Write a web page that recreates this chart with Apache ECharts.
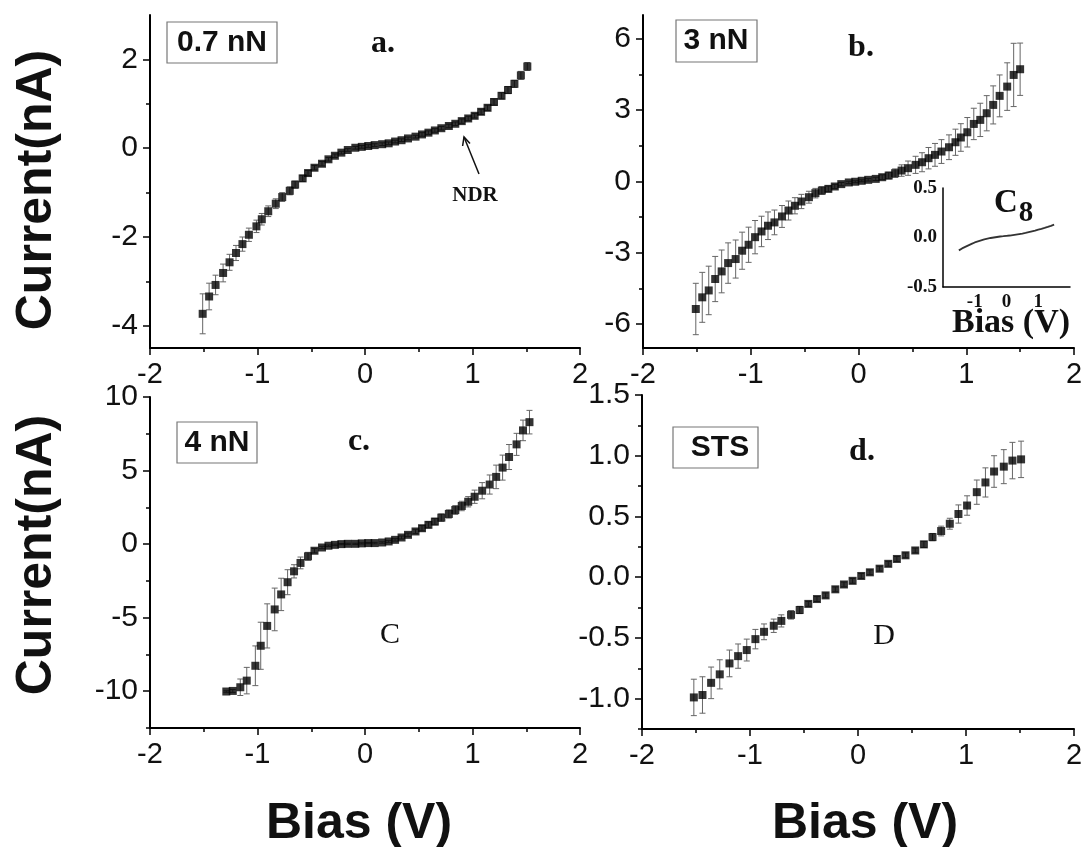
<!DOCTYPE html>
<html>
<head>
<meta charset="utf-8">
<script src="https://cdn.jsdelivr.net/npm/echarts@6/dist/echarts.min.js"></script>
<style>
  html, body { margin: 0; padding: 0; background: #fff; }
  #chart { width: 1088px; height: 847px; }
</style>
</head>
<body>
<div id="chart"></div>
<script>
// ---- Panel a: 0.7 nN load ----
const biasA = [-1.51,-1.45,-1.39,-1.32,-1.26,-1.20,-1.14,-1.08,-1.01,-0.96,-0.90,-0.83,-0.77,-0.70,-0.65,-0.58,-0.53,-0.47,-0.40,-0.34,-0.28,-0.22,-0.16,-0.09,-0.03,0.03,0.09,0.16,0.22,0.28,0.34,0.40,0.47,0.53,0.59,0.65,0.71,0.78,0.84,0.90,0.96,1.02,1.08,1.14,1.20,1.27,1.33,1.39,1.45,1.51];
const currentA = [-3.73,-3.34,-3.08,-2.81,-2.57,-2.36,-2.16,-1.95,-1.76,-1.60,-1.42,-1.25,-1.10,-0.96,-0.82,-0.68,-0.56,-0.44,-0.35,-0.25,-0.17,-0.10,-0.04,0.01,0.03,0.05,0.07,0.09,0.11,0.15,0.18,0.22,0.26,0.31,0.35,0.40,0.45,0.50,0.55,0.61,0.67,0.73,0.82,0.91,1.04,1.18,1.31,1.45,1.64,1.84];
const errorA = [0.45,0.30,0.22,0.20,0.18,0.17,0.16,0.15,0.14,0.13,0.12,0.11,0.10,0.09,0.08,0.07,0.06,0.05,0.05,0.04,0.04,0.03,0.03,0.03,0.03,0.03,0.03,0.03,0.03,0.03,0.03,0.03,0.03,0.04,0.04,0.04,0.04,0.04,0.04,0.05,0.05,0.05,0.06,0.06,0.07,0.07,0.08,0.08,0.09,0.09];

// ---- Panel b: 3 nN load ----
const biasB = [-1.51,-1.45,-1.39,-1.33,-1.27,-1.21,-1.14,-1.08,-1.02,-0.96,-0.90,-0.84,-0.78,-0.71,-0.65,-0.59,-0.53,-0.46,-0.40,-0.34,-0.28,-0.22,-0.16,-0.09,-0.03,0.03,0.09,0.16,0.22,0.28,0.34,0.40,0.46,0.53,0.59,0.65,0.71,0.77,0.84,0.90,0.95,1.01,1.07,1.13,1.19,1.25,1.31,1.38,1.44,1.50];
const currentB = [-5.36,-4.87,-4.58,-4.10,-3.78,-3.43,-3.26,-2.91,-2.66,-2.34,-2.10,-1.86,-1.72,-1.47,-1.22,-1.02,-0.84,-0.66,-0.49,-0.38,-0.31,-0.21,-0.11,-0.04,-0.01,0.03,0.07,0.11,0.18,0.25,0.35,0.46,0.56,0.70,0.81,0.98,1.12,1.26,1.44,1.65,1.85,2.07,2.42,2.59,2.87,3.22,3.60,3.99,4.48,4.72];
const errorB = [1.08,1.05,1.02,0.95,0.90,0.85,0.80,0.78,0.74,0.70,0.64,0.58,0.52,0.46,0.40,0.34,0.30,0.25,0.20,0.16,0.12,0.09,0.07,0.05,0.04,0.04,0.05,0.07,0.10,0.14,0.18,0.24,0.30,0.36,0.40,0.45,0.48,0.50,0.52,0.55,0.58,0.62,0.66,0.70,0.74,0.80,0.88,1.00,1.33,1.10];

// ---- Inset in panel b: C8 reference curve ----
const biasC8 = [-1.5,-1.4,-1.3,-1.2,-1.1,-1.0,-0.9,-0.8,-0.7,-0.6,-0.5,-0.4,-0.3,-0.2,-0.1,0,0.1,0.2,0.3,0.4,0.5,0.6,0.7,0.8,0.9,1.0,1.1,1.2,1.3,1.4,1.5];
const currentC8 = [-0.13,-0.11,-0.095,-0.08,-0.065,-0.05,-0.04,-0.03,-0.02,-0.012,-0.005,0.0,0.005,0.01,0.013,0.017,0.02,0.025,0.03,0.035,0.04,0.047,0.055,0.063,0.07,0.08,0.088,0.097,0.107,0.118,0.13];

// ---- Panel c: 4 nN load ----
const biasC = [-1.29,-1.23,-1.16,-1.10,-1.02,-0.97,-0.91,-0.84,-0.78,-0.72,-0.66,-0.60,-0.53,-0.47,-0.40,-0.34,-0.28,-0.22,-0.16,-0.09,-0.03,0.03,0.09,0.16,0.22,0.28,0.34,0.40,0.47,0.53,0.59,0.65,0.71,0.78,0.84,0.90,0.96,1.02,1.09,1.16,1.22,1.28,1.34,1.41,1.47,1.53];
const currentC = [-10.02,-9.98,-9.73,-9.28,-8.27,-6.91,-5.56,-4.44,-3.42,-2.59,-1.85,-1.28,-0.83,-0.45,-0.23,-0.11,-0.05,0,0.02,0.02,0.05,0.07,0.07,0.11,0.18,0.29,0.45,0.63,0.86,1.08,1.31,1.53,1.80,2.05,2.32,2.59,2.88,3.22,3.63,4.05,4.57,5.20,5.92,6.78,7.73,8.29];
const errorC = [0.05,0.10,0.56,0.90,1.35,1.60,1.50,1.45,1.10,0.85,0.45,0.40,0.27,0.15,0.08,0.05,0.05,0.04,0.04,0.04,0.04,0.04,0.05,0.05,0.06,0.08,0.10,0.12,0.15,0.18,0.20,0.22,0.25,0.28,0.30,0.32,0.35,0.45,0.55,0.65,0.80,0.85,0.85,0.75,0.70,0.80];

// ---- Panel d: STS ----
const biasD = [-1.52,-1.44,-1.36,-1.28,-1.19,-1.11,-1.03,-0.95,-0.87,-0.78,-0.71,-0.62,-0.54,-0.46,-0.38,-0.30,-0.21,-0.13,-0.05,0.03,0.11,0.20,0.28,0.36,0.44,0.53,0.61,0.69,0.77,0.85,0.93,1.01,1.10,1.18,1.26,1.35,1.43,1.51];
const currentD = [-0.99,-0.97,-0.87,-0.80,-0.71,-0.65,-0.60,-0.51,-0.45,-0.40,-0.36,-0.31,-0.27,-0.22,-0.18,-0.15,-0.10,-0.06,-0.03,0.01,0.04,0.07,0.11,0.15,0.18,0.22,0.27,0.33,0.38,0.44,0.52,0.59,0.70,0.78,0.87,0.91,0.96,0.97];
const errorD = [0.15,0.15,0.13,0.12,0.11,0.10,0.09,0.08,0.065,0.055,0.05,0.035,0.03,0.02,0.02,0.02,0.02,0.02,0.02,0.02,0.02,0.02,0.02,0.02,0.02,0.02,0.025,0.03,0.04,0.045,0.075,0.08,0.10,0.12,0.13,0.14,0.15,0.15];

// ---- Axis ticks and labels ----
const yMajorA = [-4, -2, 0, 2],            yMinorA = [-3, -1, 1];
const yMajorB = [-6, -3, 0, 3, 6],         yMinorB = [-4.5, -1.5, 1.5, 4.5];
const yMajorC = [-10, -5, 0, 5, 10],       yMinorC = [-12.5, -7.5, -2.5, 2.5, 7.5];
const yMajorD = [-1, -0.5, 0, 0.5, 1, 1.5], yMinorD = [-1.25, -0.75, -0.25, 0.25, 0.75, 1.25];

const SANS = '"Liberation Sans", Arial, sans-serif';
const SERIF = '"Liberation Serif", "Times New Roman", serif';

const grids = [
  { left: 150, top: 15,  width: 430, height: 333 },
  { left: 643, top: 15,  width: 431, height: 333 },
  { left: 150, top: 397, width: 430, height: 331 },
  { left: 642, top: 395, width: 432, height: 334 },
  { left: 943, top: 188, width: 127, height: 99 }
].map(g => Object.assign({ outerBoundsMode: 'none', containLabel: false }, g));

const axisLineStyle = { color: '#000', width: 2 };

function xAxisFor(gridIndex) {
  return {
    type: 'value', gridIndex, min: -2, max: 2, interval: 1,
    axisLine: { show: true, onZero: false, lineStyle: axisLineStyle },
    axisTick: { show: true, length: 7, lineStyle: { color: '#000', width: 1.5 } },
    minorTick: { show: true, splitNumber: 2, length: 4, lineStyle: { color: '#000', width: 1.5 } },
    axisLabel: { fontFamily: SANS, fontSize: 29, color: '#111', margin: 12 },
    splitLine: { show: false }
  };
}

function yAxesFor(gridIndex, min, max, majors, minors, fmt) {
  return [
    {
      type: 'value', gridIndex, min, max, position: 'left',
      axisLine: { show: true, onZero: false, lineStyle: axisLineStyle },
      axisTick: { show: true, length: 7, customValues: majors, lineStyle: { color: '#000', width: 1.5 } },
      axisLabel: { customValues: majors, formatter: fmt, fontFamily: SANS, fontSize: 30, color: '#111', margin: 12 },
      splitLine: { show: false }
    },
    {
      type: 'value', gridIndex, min, max, position: 'left',
      axisLine: { show: false, onZero: false },
      axisTick: { show: true, length: 4, customValues: minors, lineStyle: { color: '#000', width: 1.5 } },
      axisLabel: { show: false },
      splitLine: { show: false }
    }
  ];
}

const intFmt = v => String(Math.round(v));
const decFmt = v => v.toFixed(1);

const xAxes = [0, 1, 2, 3].map(xAxisFor);
xAxes.push({
  type: 'value', gridIndex: 4, min: -2, max: 2, interval: 1,
  axisLine: { show: true, onZero: false, lineStyle: { color: '#000', width: 1.5 } },
  axisTick: { show: false },
  axisLabel: { fontFamily: SERIF, fontWeight: 'bold', fontSize: 19, color: '#111', margin: 6,
               formatter: v => (Math.abs(v) > 1.5 ? '' : String(v)) },
  splitLine: { show: false }
});

const yAxes = [].concat(
  yAxesFor(0, -4.5, 3, yMajorA, yMinorA, intFmt),
  yAxesFor(1, -7, 7, yMajorB, yMinorB, intFmt),
  yAxesFor(2, -12.5, 10, yMajorC, yMinorC, intFmt),
  yAxesFor(3, -1.25, 1.5, yMajorD, yMinorD, decFmt)
);
yAxes.push({
  type: 'value', gridIndex: 4, min: -0.5, max: 0.5, interval: 0.5,
  axisLine: { show: true, onZero: false, lineStyle: { color: '#000', width: 1.5 } },
  axisTick: { show: false },
  axisLabel: { fontFamily: SERIF, fontWeight: 'bold', fontSize: 19, color: '#111', margin: 6, formatter: decFmt },
  splitLine: { show: false }
});

// Error bars with small caps, drawn through the axis scales
function errorBarSeries(bias, cur, err, xi, yi) {
  return {
    type: 'custom', xAxisIndex: xi, yAxisIndex: yi, z: 2,
    data: bias.map((b, i) => [b, cur[i] - err[i], cur[i] + err[i]]),
    encode: { x: 0, y: [1, 2] },
    renderItem: function (params, api) {
      const lo = api.coord([api.value(0), api.value(1)]);
      const hi = api.coord([api.value(0), api.value(2)]);
      const cap = 3;
      const st = { stroke: '#666', lineWidth: 1 };
      return {
        type: 'group',
        children: [
          { type: 'line', shape: { x1: lo[0], y1: lo[1], x2: hi[0], y2: hi[1] }, style: st },
          { type: 'line', shape: { x1: lo[0] - cap, y1: lo[1], x2: lo[0] + cap, y2: lo[1] }, style: st },
          { type: 'line', shape: { x1: hi[0] - cap, y1: hi[1], x2: hi[0] + cap, y2: hi[1] }, style: st }
        ]
      };
    }
  };
}

function markerSeries(bias, cur, xi, yi) {
  return {
    type: 'scatter', xAxisIndex: xi, yAxisIndex: yi, z: 3,
    symbol: 'rect', symbolSize: 8,
    itemStyle: { color: '#000' },
    data: bias.map((b, i) => [b, cur[i]])
  };
}

const series = [
  errorBarSeries(biasA, currentA, errorA, 0, 0), markerSeries(biasA, currentA, 0, 0),
  errorBarSeries(biasB, currentB, errorB, 1, 2), markerSeries(biasB, currentB, 1, 2),
  errorBarSeries(biasC, currentC, errorC, 2, 4), markerSeries(biasC, currentC, 2, 4),
  errorBarSeries(biasD, currentD, errorD, 3, 6), markerSeries(biasD, currentD, 3, 6),
  {
    type: 'line', xAxisIndex: 4, yAxisIndex: 8, showSymbol: false, smooth: false,
    lineStyle: { color: '#333', width: 1.8 },
    data: biasC8.map((b, i) => [b, currentC8[i]])
  }
];

// Annotations: boxed load labels, panel letters, axis titles
function boxedLabel(x, y, w, h, text, tx) {
  return [
    { type: 'rect', shape: { x, y, width: w, height: h }, style: { fill: '#fff', stroke: '#777', lineWidth: 1.2 }, z: 10 },
    { type: 'text', x: tx, y: y + h / 2, z: 11,
      style: { text, font: 'bold 30px ' + SANS, fill: '#111', align: 'center', verticalAlign: 'middle' } }
  ];
}
function plainText(x, y, text, font, extra) {
  return Object.assign({ type: 'text', x, y, z: 11,
    style: { text, font, fill: '#111', align: 'center', verticalAlign: 'middle' } }, extra || {});
}

const graphic = [].concat(
  boxedLabel(167, 22, 110, 41, '0.7 nN', 222),
  boxedLabel(676, 20, 81, 42, '3 nN', 716),
  boxedLabel(177, 422, 80, 41, '4 nN', 217),
  boxedLabel(673, 427, 85, 41, 'STS', 720),
  [
    plainText(383, 44, 'a.', 'bold 32px ' + SERIF),
    plainText(861, 48, 'b.', 'bold 32px ' + SERIF),
    plainText(359, 442, 'c.', 'bold 32px ' + SERIF),
    plainText(862, 452, 'd.', 'bold 32px ' + SERIF),
    plainText(475, 196, 'NDR', 'bold 21px ' + SERIF),
    plainText(390, 635, 'C', '30px ' + SERIF),
    plainText(884, 636, 'D', '30px ' + SERIF),
    plainText(1006, 203, 'C', 'bold 33px ' + SERIF),
    plainText(1026, 214, '8', 'bold 29px ' + SERIF),
    plainText(1011, 323, 'Bias (V)', 'bold 34px ' + SERIF),
    plainText(37, 190, 'Current(nA)', 'bold 50px ' + SANS, { rotation: Math.PI / 2 }),
    plainText(37, 555, 'Current(nA)', 'bold 50px ' + SANS, { rotation: Math.PI / 2 }),
    plainText(359, 824, 'Bias (V)', 'bold 50px ' + SANS),
    plainText(865, 824, 'Bias (V)', 'bold 50px ' + SANS),
    // arrow pointing at the NDR region
    { type: 'line', z: 11, shape: { x1: 479, y1: 174, x2: 464, y2: 137 }, style: { stroke: '#111', lineWidth: 1.5 } },
    { type: 'polyline', z: 11, shape: { points: [[462.6, 146], [464, 137], [470, 143.5]] }, style: { stroke: '#111', lineWidth: 1.5, fill: null } }
  ]
);

const chart = echarts.init(document.getElementById('chart'), null, { renderer: 'canvas' });
chart.setOption({
  animation: false,
  backgroundColor: '#fff',
  grid: grids,
  xAxis: xAxes,
  yAxis: yAxes,
  series,
  graphic
});
</script>
</body>
</html>
